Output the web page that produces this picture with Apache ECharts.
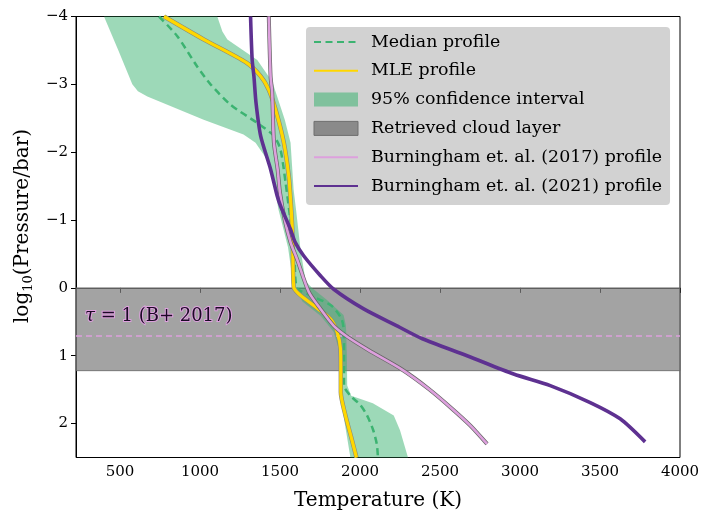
<!DOCTYPE html>
<html>
<head>
<meta charset="utf-8">
<script src="https://cdn.jsdelivr.net/npm/echarts@6/dist/echarts.min.js"></script>
<style>
html,body{margin:0;padding:0;background:#fff;}
#chart{width:709px;height:526px;}
</style>
</head>
<body>
<div id="chart"></div>
<script>
// ---- data: [log10(P/bar), Temperature K] ----
const xTickValues = [500, 1000, 1500, 2000, 2500, 3000, 3500, 4000];
const yTickValues = [-4, -3, -2, -1, 0, 1, 2];

const medianProfile = [[-4.0,744],[-3.71,858],[-3.26,983],[-3.0,1066],[-2.70,1191],[-2.43,1358],[-2.24,1462],[-2.04,1503],[-1.55,1535],[-1.0,1565],[-0.5,1590],[0.0,1605],[0.1,1680],[0.26,1820],[0.46,1885],[0.65,1899],[1.0,1900],[1.44,1900],[1.59,1940],[1.72,2000],[1.88,2044],[2.08,2080],[2.3,2105],[2.5,2112]];

const mleProfile = [[-4.0,775],[-3.66,1025],[-3.32,1290],[-3.12,1379],[-2.92,1430],[-2.63,1472],[-2.14,1524],[-1.64,1555],[-1.30,1566],[-0.91,1576],[-0.57,1580],[-0.01,1586],[0.09,1618],[0.26,1711],[0.46,1816],[0.65,1857],[0.90,1878],[1.20,1880],[1.54,1880],[1.88,1909],[2.20,1945],[2.50,1978]];

const bandLowerEdge = [[-4.0,400],[-3.5,490],[-3.0,577],[-2.9,612],[-2.82,671],[-2.48,1023],[-2.26,1272],[-2.14,1347],[-1.89,1420],[-1.5,1465],[-1.16,1490],[-0.6,1550],[-0.1,1580],[0.0,1595],[0.2,1640],[0.41,1753],[0.65,1836],[0.9,1867],[1.44,1875],[2.0,1905],[2.5,1940]];

const bandUpperEdge = [[-4.0,1108],[-3.78,1140],[-3.66,1171],[-3.36,1358],[-3.04,1452],[-2.48,1530],[-2.14,1566],[-1.45,1585],[-1.16,1600],[-0.57,1628],[-0.1,1660],[0.0,1700],[0.17,1790],[0.4,1897],[0.55,1912],[1.0,1918],[1.44,1920],[1.59,1945],[1.70,2080],[1.88,2211],[2.1,2250],[2.5,2300]];

const b2017Profile = [[-4.0,1430],[-3.12,1441],[-2.88,1451],[-2.14,1462],[-1.75,1485],[-1.40,1500],[-1.0,1530],[-0.67,1566],[-0.42,1607],[0.06,1680],[0.31,1753],[0.56,1836],[0.72,1920],[0.92,2055],[1.20,2260],[1.49,2430],[1.78,2575],[2.03,2690],[2.30,2794]];

const b2021Profile = [[-4.0,1316],[-3.36,1326],[-3.12,1337],[-2.73,1350],[-2.24,1379],[-1.75,1441],[-1.35,1483],[-1.21,1503],[-0.86,1566],[-0.67,1595],[-0.47,1649],[-0.18,1753],[0.02,1836],[0.31,2023],[0.56,2231],[0.75,2390],[1.0,2669],[1.27,2960],[1.44,3189],[1.69,3439],[1.93,3626],[2.27,3782]];

const cloudTop = 0.0;
const cloudBottom = 1.22;
const tauOneLevel = 0.70;

const names = ['Median profile','MLE profile','95% confidence interval','Retrieved cloud layer','Burningham et. al. (2017) profile','Burningham et. al. (2021) profile'];

const X_MIN = 225, X_MAX = 4000, Y_MIN = -4, Y_MAX = 2.5;
const FONT = "'DejaVu Serif', serif";

const toXY = arr => arr.map(d => [d[1], d[0]]);
const noSymbol = {color: 'rgba(0,0,0,0)', borderColor: 'rgba(0,0,0,0)', borderWidth: 0};

const chart = echarts.init(document.getElementById('chart'), null, {renderer: 'canvas'});

const option = {
  animation: false,
  backgroundColor: '#fff',
  grid: {left: 76, right: 29, top: 16.5, bottom: 68.5, show: true, borderColor: '#000', borderWidth: 1, backgroundColor: 'transparent'},
  legend: {
    orient: 'vertical',
    left: 306, top: 27,
    padding: [5, 8, 9, 7],
    backgroundColor: 'rgba(206,206,206,0.92)',
    borderRadius: 4,
    itemWidth: 44, itemHeight: 14, itemGap: 8.8,
    textStyle: {fontFamily: FONT, fontSize: 17.4, color: '#000', lineHeight: 20, padding: [0,0,0,8]},
    data: [
      {name: names[0], itemStyle: noSymbol},
      {name: names[1], itemStyle: noSymbol},
      {name: names[2], icon: 'rect', itemStyle: {color: 'rgba(60,179,113,0.55)'}},
      {name: names[3], icon: 'rect', itemStyle: {color: '#8a8a8a', borderColor: '#6e6e6e', borderWidth: 1}},
      {name: names[4], itemStyle: noSymbol},
      {name: names[5], itemStyle: noSymbol}
    ]
  },
  xAxis: {
    type: 'value', min: X_MIN, max: X_MAX,
    name: 'Temperature (K)', nameLocation: 'middle', nameGap: 33,
    nameTextStyle: {fontFamily: FONT, fontSize: 20, color: '#000'},
    axisLine: {show: true, lineStyle: {color: '#000', width: 1}},
    axisTick: {show: true, inside: false, length: 5, customValues: xTickValues, lineStyle: {color: '#000'}},
    axisLabel: {customValues: xTickValues, margin: 7, fontFamily: FONT, fontSize: 15, color: '#000',
      formatter: v => String(v)},
    splitLine: {show: false}
  },
  yAxis: {
    type: 'value', min: Y_MIN, max: Y_MAX, inverse: true,
    name: '{n|log}{s|10}{n|(Pressure/bar)}', nameLocation: 'middle', nameGap: 40, nameRotate: 90,
    nameTextStyle: {fontFamily: FONT, fontSize: 20, color: '#000', padding: [0, 0, 0, 22],
      rich: {n: {fontFamily: FONT, fontSize: 20, color: '#000', lineHeight: 24},
             s: {fontFamily: FONT, fontSize: 13, color: '#000', lineHeight: 12, verticalAlign: 'bottom'}}},
    axisLine: {show: true, lineStyle: {color: '#000', width: 1}},
    axisTick: {show: true, inside: false, length: 5, customValues: yTickValues, lineStyle: {color: '#000'}},
    axisLabel: {customValues: yTickValues, margin: 8, fontFamily: FONT, fontSize: 15, color: '#000',
      formatter: v => v < 0 ? '\u2212' + Math.abs(v) : String(v)},
    splitLine: {show: false}
  },
  series: [
    {
      name: names[3], type: 'custom', z: 1, silent: true,
      itemStyle: {color: '#8a8a8a'},
      data: [[X_MIN, cloudTop, X_MAX, cloudBottom]],
      encode: {x: [0, 2], y: [1, 3]},
      renderItem: (params, api) => {
        const p1 = api.coord([api.value(0), api.value(1)]);
        const p2 = api.coord([api.value(2), api.value(3)]);
        return {type: 'rect', shape: {x: p1[0], y: p1[1], width: p2[0]-p1[0], height: p2[1]-p1[1]},
          style: {fill: 'rgba(128,128,128,0.72)', stroke: 'rgba(100,100,100,0.8)', lineWidth: 1}};
      }
    },
    {
      name: names[2], type: 'custom', z: 2, silent: true,
      itemStyle: {color: 'rgba(60,179,113,0.55)'},
      data: [[bandLowerEdge[0][1], bandLowerEdge[0][0]]],
      renderItem: (params, api) => {
        const pts = toXY(bandLowerEdge).concat(toXY(bandUpperEdge).reverse()).map(d => api.coord(d));
        return {type: 'polygon', shape: {points: pts, smooth: 0}, style: {fill: 'rgba(60,179,113,0.5)'}};
      }
    },
    {
      name: names[0], type: 'line', z: 3, symbol: 'none', smooth: 0.25, silent: true,
      color: '#3cb371',
      lineStyle: {color: '#3cb371', width: 2.5, type: [7, 4.5]},
      data: toXY(medianProfile)
    },
    {
      name: '_mleOutline', type: 'line', z: 4, symbol: 'none', smooth: 0.25, silent: true,
      lineStyle: {color: '#8a8a7a', width: 4.4},
      data: toXY(mleProfile)
    },
    {
      name: names[1], type: 'line', z: 5, symbol: 'none', smooth: 0.25, silent: true,
      color: '#ffd700',
      lineStyle: {color: '#ffd700', width: 3.2},
      data: toXY(mleProfile)
    },
    {
      name: '_b2017Outline', type: 'line', z: 6, symbol: 'none', smooth: 0.25, silent: true,
      lineStyle: {color: '#666', width: 4.0},
      data: toXY(b2017Profile)
    },
    {
      name: names[4], type: 'line', z: 7, symbol: 'none', smooth: 0.25, silent: true,
      color: '#dda0dd',
      lineStyle: {color: '#dda0dd', width: 2.6},
      data: toXY(b2017Profile),
      markLine: {
        silent: true, symbol: 'none',
        lineStyle: {color: '#dda0dd', width: 1.5, type: [6, 4]},
        label: {
          show: true, position: 'insideStartTop', distance: [9, 10],
          formatter: '{i|\u03c4} = 1 (B+ 2017)',
          fontFamily: FONT, fontSize: 18, color: '#1c0a26',
          textBorderColor: '#dda0dd', textBorderWidth: 2,
          rich: {i: {fontFamily: FONT, fontSize: 18, fontStyle: 'italic', color: '#1c0a26', textBorderColor: '#dda0dd', textBorderWidth: 2}}
        },
        data: [{yAxis: tauOneLevel}]
      }
    },
    {
      name: names[5], type: 'line', z: 8, symbol: 'none', smooth: 0.25, silent: true,
      color: '#5e3191',
      lineStyle: {color: '#5e3191', width: 3.6},
      data: toXY(b2021Profile)
    }
  ]
};
chart.setOption(option);
</script>
</body>
</html>
